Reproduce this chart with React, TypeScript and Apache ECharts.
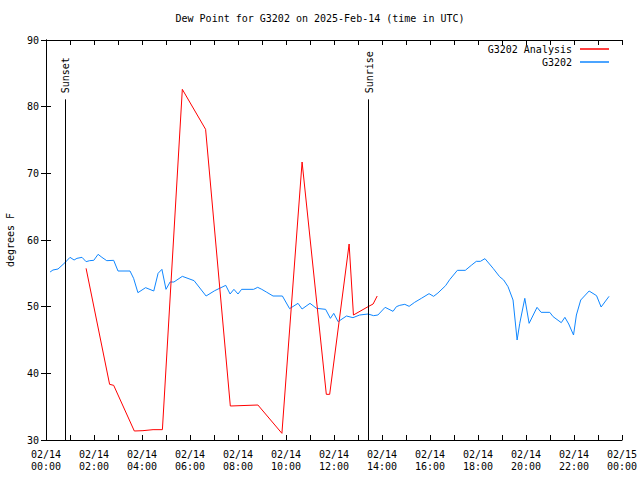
import React, { useEffect, useRef } from "react";
import * as echarts from "echarts";

// Hours after 2025-02-14 00:00 UTC
const analysisHours = [1.67, 2.65, 2.82, 3.68, 4.04, 4.46, 4.85, 5.68, 6.65, 7.68, 8.83, 9.83, 10.67, 11.68, 11.82, 12.63, 12.81, 13.42, 13.63, 13.8];
const analysisValues = [55.75, 38.35, 38.2, 31.35, 31.4, 31.55, 31.55, 82.6, 76.6, 35.1, 35.25, 31.0, 71.7, 36.85, 36.85, 59.4, 48.75, 50.0, 50.4, 51.6];

const obsHours = [
  0.17, 0.29, 0.5, 0.79, 1.0, 1.17, 1.29, 1.5, 1.67, 1.82, 1.99, 2.17, 2.33, 2.53, 2.82, 3.0, 3.5, 3.65, 3.83, 4.15,
  4.49, 4.67, 4.83, 5.0, 5.17, 5.33, 5.68, 6.17, 6.67, 7.03, 7.49, 7.67, 7.83, 8.0, 8.15, 8.65, 8.82, 8.99, 9.18, 9.46,
  9.85, 10.15, 10.5, 10.67, 11.0, 11.27, 11.65, 11.85, 11.99, 12.17, 12.52, 12.79, 13.07, 13.42, 13.65, 13.83, 14.13, 14.46, 14.6, 14.74,
  14.95, 15.13, 15.36, 15.64, 15.96, 16.15, 16.33, 16.65, 16.82, 17.14, 17.47, 17.72, 17.93, 18.1, 18.29, 18.63, 18.9, 19.07, 19.25, 19.46,
  19.63, 19.74, 19.95, 20.13, 20.46, 20.63, 20.99, 21.13, 21.47, 21.62, 21.78, 21.98, 22.1, 22.28, 22.63, 22.94, 23.13, 23.46,
];
const obsValues = [
  55.2, 55.5, 55.65, 56.6, 57.4, 57.0, 57.25, 57.4, 56.75, 56.9, 56.95, 57.85, 57.4, 56.9, 56.95, 55.35, 55.35, 54.25, 52.1, 52.85,
  52.35, 55.0, 55.6, 52.6, 53.7, 53.7, 54.55, 53.9, 51.6, 52.4, 53.2, 51.9, 52.6, 51.9, 52.6, 52.6, 52.9, 52.6, 52.2, 51.6,
  51.6, 49.7, 50.5, 49.65, 50.5, 49.75, 49.6, 48.25, 49.0, 47.75, 48.6, 48.35, 48.75, 48.9, 48.65, 48.75, 49.9, 49.3, 50.0, 50.2,
  50.35, 50.05, 50.65, 51.25, 51.95, 51.55, 52.05, 53.15, 54.05, 55.45, 55.45, 56.2, 56.8, 56.8, 57.2, 55.75, 54.5, 54.0, 53.0, 51.0,
  45.0, 47.5, 51.25, 47.5, 49.9, 49.15, 49.15, 48.5, 47.6, 48.4, 47.4, 45.75, 48.75, 51.0, 52.35, 51.65, 49.95, 51.55,
];

const sunNames = ["Sunset", "Sunrise"];
const sunHours = [0.79, 13.42];
const sunLineTop = 81.1;

const FONT = "DejaVu Sans Mono";
const RED = "#ff0000";
const BLUE = "#0f86ff";

function xLabel(v: number): string {
  const h = Math.round(v);
  if (h % 2 !== 0) return "";
  const day = h >= 24 ? "02/15" : "02/14";
  const hh = String(h % 24).padStart(2, "0");
  return `${day}\n${hh}:00`;
}

export default function App() {
  const ref = useRef<HTMLDivElement>(null);
  useEffect(() => {
    if (!ref.current) return;
    const chart = echarts.init(ref.current, undefined, { renderer: "svg" });
    const axisCommon = {
      min: 0,
      max: 24,
      interval: 1,
      axisLine: { lineStyle: { color: "#000", width: 1 } },
      axisTick: { inside: true, length: 5, lineStyle: { color: "#000" } },
      splitLine: { show: false },
    };
    const yCommon = {
      min: 30,
      max: 90,
      interval: 10,
      axisLine: { show: true, lineStyle: { color: "#000", width: 1 } },
      axisTick: { show: true, inside: true, length: 5, lineStyle: { color: "#000" } },
      splitLine: { show: false },
    };
    const legendCommon = {
      right: 31,
      align: "right",
      padding: 0,
      itemWidth: 29,
      itemHeight: 1.5,
      icon: "rect",
      textStyle: { fontFamily: FONT, fontSize: 10, color: "#000", padding: [0, 3, 0, 0] },
    };
    chart.setOption({
      animation: false,
      backgroundColor: "#fff",
      textStyle: { fontFamily: FONT },
      title: {
        text: "Dew Point for G3202 on 2025-Feb-14 (time in UTC)",
        left: "center",
        top: 13,
        padding: 0,
        textStyle: { fontFamily: FONT, fontSize: 10, fontWeight: "normal", color: "#000" },
      },
      legend: [
        { ...legendCommon, data: ["G3202 Analysis"], top: 44 },
        { ...legendCommon, data: ["G3202"], top: 57 },
      ],
      grid: { left: 46, right: 18, top: 40, bottom: 40, containLabel: false, outerBoundsMode: "none" },
      xAxis: [
        {
          type: "value",
          position: "bottom",
          ...axisCommon,
          axisLabel: {
            formatter: xLabel,
            fontFamily: FONT,
            fontSize: 10,
            color: "#000",
            lineHeight: 12,
            margin: 8,
            showMinLabel: true,
            showMaxLabel: true,
          },
        },
        {
          type: "value",
          position: "top",
          ...axisCommon,
          axisLabel: { show: false },
        },
      ],
      yAxis: [
        {
          type: "value",
          position: "left",
          ...yCommon,
          name: "degrees F",
          nameLocation: "middle",
          nameGap: 31,
          nameTextStyle: { fontFamily: FONT, fontSize: 10, color: "#000" },
          axisLabel: { fontFamily: FONT, fontSize: 10, color: "#000", margin: 7 },
        },
        {
          type: "value",
          position: "right",
          ...yCommon,
          axisLabel: { show: false },
        },
      ],
      series: [
        {
          name: "G3202 Analysis",
          type: "line",
          data: analysisHours.map((h, i) => [h, analysisValues[i]]),
          showSymbol: false,
          symbol: "none",
          lineStyle: { color: RED, width: 1 },
          itemStyle: { color: RED },
          xAxisIndex: 0,
          yAxisIndex: 0,
          z: 3,
        },
        {
          name: "G3202",
          type: "line",
          data: obsHours.map((h, i) => [h, obsValues[i]]),
          showSymbol: false,
          symbol: "none",
          lineStyle: { color: BLUE, width: 1 },
          itemStyle: { color: BLUE },
          xAxisIndex: 0,
          yAxisIndex: 0,
          z: 2,
          markLine: {
            silent: true,
            symbol: "none",
            label: { show: false },
            lineStyle: { color: "#000", width: 1, type: "solid" },
            data: sunHours.map((h) => [{ coord: [h, sunLineTop] }, { coord: [h, 30] }]),
          },
        },
      ],
    });

    const graphics = sunHours.map((h, i) => {
      const p = chart.convertToPixel({ gridIndex: 0 }, [h, sunLineTop]) as number[];
      return {
        type: "text",
        x: p[0] + 1,
        y: p[1] - 6,
        rotation: Math.PI / 2,
        style: {
          text: sunNames[i],
          fontFamily: FONT,
          fontSize: 10,
          fill: "#000",
          align: "left",
          verticalAlign: "middle",
        },
      };
    });
    chart.setOption({ graphic: graphics });

    return () => chart.dispose();
  }, []);
  return <div ref={ref} style={{ position: "fixed", left: 0, top: 0, width: 640, height: 480 }} />;
}
